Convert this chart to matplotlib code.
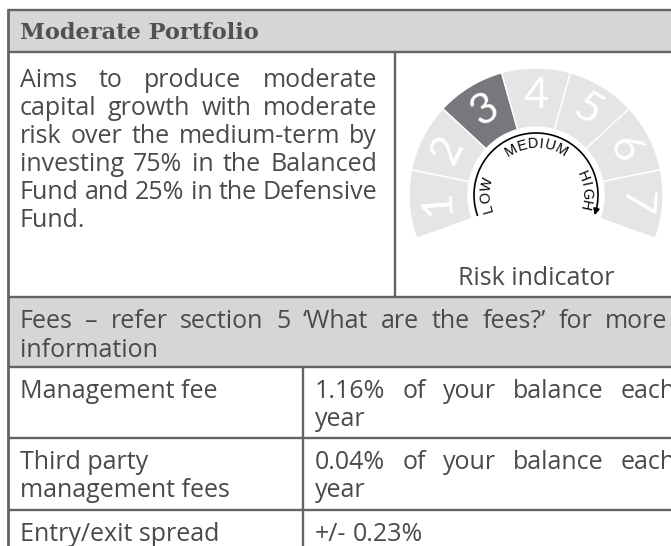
import numpy as np
import matplotlib.pyplot as plt
from matplotlib.patches import Wedge, Rectangle

# content
title = "Moderate Portfolio"
description = ["Aims to produce moderate",
               "capital growth with moderate",
               "risk over the medium-term by",
               "investing 75% in the Balanced",
               "Fund and 25% in the Defensive",
               "Fund."]
risk_levels = [1, 2, 3, 4, 5, 6, 7]
risk_level = 3
risk_words = ["LOW", "MEDIUM", "HIGH"]
risk_caption = "Risk indicator"
fees_heading = ["Fees – refer section 5 ‘What are the fees?’ for more", "information"]
fee_names = [["Management fee"], ["Third party", "management fees"], ["Entry/exit spread"]]
fee_values = [["1.16% of your balance each", "year"],
              ["0.04% of your balance each", "year"],
              ["+/- 0.23%"]]

W, H = 671, 546
TXT = "#4a4a4c"
LINE = "#636466"
FILL = "#d5d6d8"
BODY = dict(family="Open Sans", fontsize=18, color=TXT)

fig = plt.figure(figsize=(W / 100, H / 100), dpi=100)
ax = fig.add_axes([0, 0, 1, 1])
ax.set_xlim(0, W)
ax.set_ylim(H, 0)
ax.axis("off")
fig.canvas.draw()
rend = fig.canvas.get_renderer()


def width_of(t):
    return t.get_window_extent(rend).width


def justify(a, line, x0, x1, y, full=True, **kw):
    words = line.split()
    ts = [a.text(0, y, w, va="baseline", ha="left", **kw) for w in words]
    ws = [width_of(t) for t in ts]
    if full and len(words) > 1:
        gap = (x1 - x0 - sum(ws)) / (len(words) - 1)
    else:
        gap = width_of(a.text(0, 0, "x", alpha=0, **kw)) * 0.5
    x = x0
    for t, w in zip(ts, ws):
        t.set_x(x)
        x += w + gap


# table frame
left, top = 8, 10
head_bot, mid_bot, fees_bot = 52, 297, 367
row_bots = [438, 510]
split_top, split_fee = 395, 303

ax.add_patch(Rectangle((left, top), W, head_bot - top, fc=FILL, ec="none"))
ax.add_patch(Rectangle((left, mid_bot), W, fees_bot - mid_bot, fc=FILL, ec="none"))
for y in [top, head_bot, mid_bot, fees_bot] + row_bots:
    ax.plot([left, W + 5], [y, y], color=LINE, lw=1.7, solid_capstyle="butt")
ax.plot([left, left], [top, H + 5], color=LINE, lw=2.0)
ax.plot([split_top, split_top], [head_bot, mid_bot], color=LINE, lw=1.7)
ax.plot([split_fee, split_fee], [fees_bot, H + 5], color=LINE, lw=1.7)

# title
ax.text(20, 39, title, family="DejaVu Serif", fontweight="bold", fontsize=16.2,
        color="#505153", va="baseline")

# description, justified
for i, line in enumerate(description):
    justify(ax, line, 20, 377, 87 + 28 * i, full=(i < len(description) - 1), **BODY)

ax.text(536, 285, risk_caption, ha="center", va="baseline", **BODY)

# fees
justify(ax, fees_heading[0], 20, 667, 328, **BODY)
justify(ax, fees_heading[1], 20, 667, 357, full=False, **BODY)
row_tops = [fees_bot] + row_bots
for rt, names, vals in zip(row_tops, fee_names, fee_values):
    for j, s in enumerate(names):
        ax.text(20, rt + 31 + 28 * j, s, va="baseline", **BODY)
    for j, s in enumerate(vals):
        justify(ax, s, 315, 676, rt + 31 + 28 * j, full=(j == 0 and len(vals) > 1), **BODY)

# risk gauge
cx, cy = 536, 195
gx0, gx1, gy0, gy1 = split_top + 1, W, head_bot + 1, mid_bot - 1
gax = fig.add_axes([gx0 / W, 1 - gy1 / H, (gx1 - gx0) / W, (gy1 - gy0) / H])
gax.set_xlim(gx0 - cx, gx1 - cx)
gax.set_ylim(cy - gy1, cy - gy0)
gax.axis("off")

r_out, r_in = 127, 68
start, span = 200, 220
step = span / len(risk_levels)
for i, lvl in enumerate(risk_levels):
    t2 = start - i * step
    t1 = t2 - step
    fc = "#77787b" if lvl == risk_level else "#e4e5e7"
    gax.add_patch(Wedge((0, 0), r_out, t1, t2, width=r_out - r_in, fc=fc, ec="white", lw=1))
    mid = np.radians((t1 + t2) / 2)
    gax.text(99 * np.cos(mid), 99 * np.sin(mid), str(lvl), rotation=np.degrees(mid) - 90,
             ha="center", va="center", color="white", fontsize=31, family="Lato",
             fontweight="normal", rotation_mode="anchor")

# arrow arc
r_arc = 62
th = np.radians(np.linspace(199, -14, 200))
gax.plot(r_arc * np.cos(th), r_arc * np.sin(th), color="black", lw=1.2)
e1, e2 = np.radians(-12), np.radians(-19)
gax.annotate("", xy=(r_arc * np.cos(e2), r_arc * np.sin(e2)),
             xytext=(r_arc * np.cos(e1), r_arc * np.sin(e1)),
             arrowprops=dict(arrowstyle="-|>", color="black", lw=1.2, mutation_scale=9,
                             shrinkA=0, shrinkB=0))


def arc_text(a, s, center_deg, r, spacing=1.0, **kw):
    ts = [a.text(0, 0, ch, ha="center", va="center", rotation_mode="anchor", **kw) for ch in s]
    ws = [width_of(t) for t in ts]
    total = sum(ws) + spacing * (len(s) - 1)
    pos = -total / 2
    for t, w in zip(ts, ws):
        ang = np.radians(center_deg) - (pos + w / 2) / r
        t.set_position((r * np.cos(ang), r * np.sin(ang)))
        t.set_rotation(np.degrees(ang) - 90)
        pos += w + spacing


lab_kw = dict(family="Liberation Sans", fontsize=10.5, color="black")
arc_text(gax, risk_words[0], 180, 50, **lab_kw)
arc_text(gax, risk_words[1], 90, 51, **lab_kw)
arc_text(gax, risk_words[2], 5, 50, **lab_kw)

fig.savefig("out.png", dpi=100)
